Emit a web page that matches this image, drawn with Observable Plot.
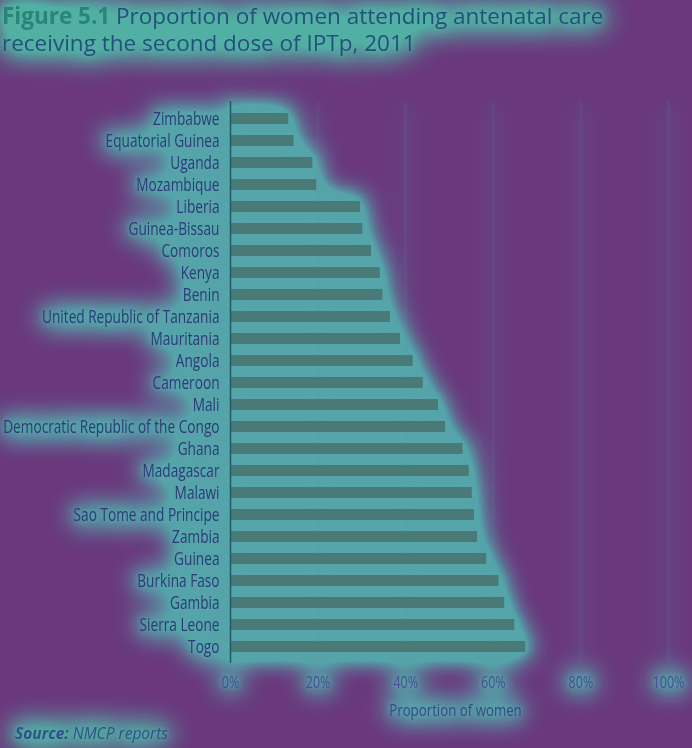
<!DOCTYPE html>
<html>
<head>
<meta charset="utf-8">
<script src="https://cdn.jsdelivr.net/npm/d3@7"></script>
<script src="https://cdn.jsdelivr.net/npm/@observablehq/plot@0.6"></script>
<style>
  html, body { margin: 0; padding: 0; }
  body { width: 692px; height: 748px; overflow: hidden; background: #6a377d; font-family: "Open Sans", "Noto Sans", sans-serif; position: relative; }
  #title { position: absolute; left: 2px; top: 2px; font-size: 22.5px; line-height: 27px; color: #26507c; white-space: nowrap;
           filter: drop-shadow(0 0 2px #52b0a4) drop-shadow(0 0 6px #52b0a4) url(#haloWide); }
  #title b { color: #278675; font-weight: 700; }
  #chart { position: absolute; left: 0; top: 70px; width: 692px; height: 655px;
           filter: drop-shadow(0 0 2px #55a6aa) drop-shadow(0 0 5px #55a6aa) url(#halo); }
  #source { position: absolute; left: 15px; top: 722px; font-size: 15.5px; font-style: italic; color: #33508a;
            filter: drop-shadow(0 0 2px #52b0a4) drop-shadow(0 0 6px #52b0a4) url(#haloWide); }
  #defs { position: absolute; width: 0; height: 0; }
</style>
</head>
<body>
<svg id="defs" aria-hidden="true">
  <defs>
    <filter id="halo" x="-10%" y="-10%" width="120%" height="120%" color-interpolation-filters="sRGB">
      <feGaussianBlur in="SourceAlpha" stdDeviation="13" result="b"/>
      <feComponentTransfer in="b" result="a"><feFuncA type="linear" slope="3.2" intercept="0"/></feComponentTransfer>
      <feFlood flood-color="#56a4aa"/>
      <feComposite in2="a" operator="in" result="glow"/>
      <feMerge><feMergeNode in="glow"/><feMergeNode in="SourceGraphic"/></feMerge>
    </filter>
    <filter id="haloWide" x="-20%" y="-120%" width="140%" height="340%" color-interpolation-filters="sRGB">
      <feGaussianBlur in="SourceAlpha" stdDeviation="14" result="b"/>
      <feComponentTransfer in="b" result="a"><feFuncA type="linear" slope="3" intercept="0"/></feComponentTransfer>
      <feFlood flood-color="#52b0a4"/>
      <feComposite in2="a" operator="in" result="glow"/>
      <feMerge><feMergeNode in="glow"/><feMergeNode in="SourceGraphic"/></feMerge>
    </filter>
  </defs>
</svg>
<div id="title"><b>Figure 5.1</b> Proportion of women attending antenatal care<br>receiving the second dose of IPTp, 2011</div>
<div id="chart"></div>
<div id="source"><b>Source:</b> NMCP reports</div>
<script>
const countries = ["Zimbabwe", "Equatorial Guinea", "Uganda", "Mozambique", "Liberia", "Guinea-Bissau", "Comoros", "Kenya", "Benin", "United Republic of Tanzania", "Mauritania", "Angola", "Cameroon", "Mali", "Democratic Republic of the Congo", "Ghana", "Madagascar", "Malawi", "Sao Tome and Principe", "Zambia", "Guinea", "Burkina Faso", "Gambia", "Sierra Leone", "Togo"];
const values = [0.133, 0.145, 0.188, 0.197, 0.297, 0.302, 0.322, 0.342, 0.348, 0.365, 0.388, 0.417, 0.440, 0.475, 0.491, 0.531, 0.545, 0.552, 0.557, 0.564, 0.585, 0.613, 0.626, 0.649, 0.674];
const xTicks = [0, 0.2, 0.4, 0.6, 0.8, 1.0];
const axisLabel = ["Proportion of women"];

const data = countries.map((c, i) => ({country: c, value: values[i]}));

const chart = Plot.plot({
  width: 692,
  height: 655,
  marginLeft: 230,
  marginRight: 24,
  marginTop: 31,
  marginBottom: 62,
  style: {background: "transparent", fontFamily: '"Open Sans", sans-serif', fontSize: "17px", color: "#2e3a78"},
  x: {domain: [0, 1], label: null},
  y: {domain: countries, label: null, paddingInner: 0.5, paddingOuter: 0.32},
  marks: [
    Plot.gridX(xTicks, {stroke: "#8e6aa6", strokeOpacity: 0.18, strokeWidth: 1}),
    Plot.barX(data, {x: "value", y: "country", fill: "#4a7a78"}),
    Plot.ruleX([0], {stroke: "#1d5b66", strokeWidth: 1.5}),
    Plot.axisX({ticks: xTicks, tickFormat: d3.format(".0%"), tickSize: 0, tickPadding: 13, label: null, fill: "#4a4e92", fontSize: 16}),
    Plot.axisY({tickSize: 0, tickPadding: 11, label: null, fill: "#2e3a78", fontSize: 17.5}),
    Plot.text(axisLabel, {text: d => d, frameAnchor: "bottom", lineAnchor: "middle", dy: 47, dx: 6, fill: "#3d4688", fontSize: 17})
  ]
});
document.getElementById("chart").appendChild(chart);

// condense the label glyphs (the reference uses a condensed face)
chart.querySelectorAll("text").forEach(t => {
  const w = t.getComputedTextLength();
  if (w > 0) {
    t.setAttribute("textLength", (w * 0.78).toFixed(1));
    t.setAttribute("lengthAdjust", "spacingAndGlyphs");
  }
});
</script>
</body>
</html>
